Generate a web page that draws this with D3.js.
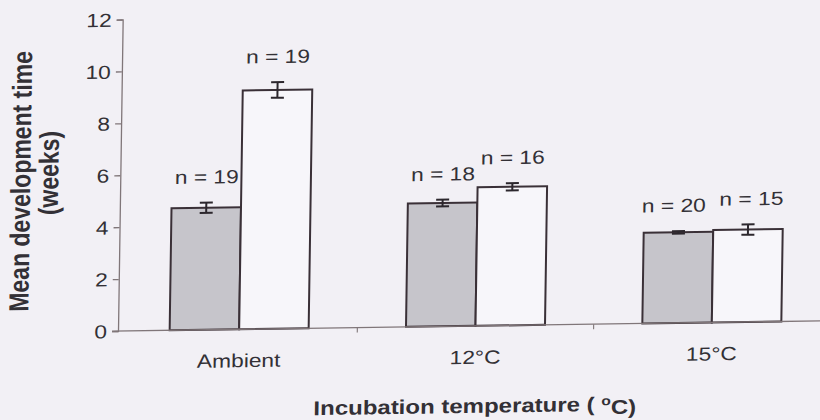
<!DOCTYPE html>
<html>
<head>
<meta charset="utf-8">
<script src="https://cdn.jsdelivr.net/npm/d3@7"></script>
<style>
  html, body { margin: 0; padding: 0; background: #f2f0f5; }
  svg { display: block; }
  text { font-family: "Liberation Sans", Arial, sans-serif; fill: #333036; }
</style>
</head>
<body>
<svg id="chart" width="820" height="420"></svg>
<script>
// Incubation treatments
const categories = ["Ambient", "12°C", "15°C"];

// Series A (grey bars): mean development time (weeks), error and sample size
const greyMeans = [4.7, 4.75, 3.49];
const greyErrors = [0.2, 0.13, 0.05];
const greyN = [19, 18, 20];

// Series B (open bars)
const openMeans = [9.2, 5.34, 3.56];
const openErrors = [0.3, 0.14, 0.2];
const openN = [19, 16, 15];

// Y axis ticks
const yTicks = [0, 2, 4, 6, 8, 10, 12];

const svg = d3.select("#chart");

// plot origin (axis corner) and a small shear of the whole frame
const ox = 118, oy = 331;
const shearX = -0.015, shearY = -0.0144;
const g = svg.append("g")
  .attr("transform", `matrix(1,${shearY},${shearX},1,${-shearX * oy},${-shearY * ox})`);

const stretch = 1.2; // horizontal stretch of lettering

const y = d3.scaleLinear().domain([0, 12]).range([oy, 19.5]);
const x = d3.scaleBand().domain(categories).range([121, 830]).paddingInner(0).paddingOuter(0);
const barW = 69.5;

const series = [
  { key: "grey", means: greyMeans, errs: greyErrors, n: greyN, fill: "#c6c5cb", offset: -barW, labelShift: -5 },
  { key: "open", means: openMeans, errs: openErrors, n: openN, fill: "#f7f6fa", offset: 0, labelShift: 3 }
];

const axisColor = "#807679";
const ink = "#3a3037";

// y axis
const yAxis = d3.axisLeft(y).tickValues(yTicks).tickSize(6).tickPadding(6).tickFormat(d3.format("d"));
const yg = g.append("g").attr("transform", `translate(${ox},0)`).call(yAxis);
yg.select(".domain").attr("stroke", axisColor).attr("stroke-width", 1.3);
yg.selectAll(".tick line").attr("stroke", axisColor).attr("stroke-width", 1.3);
yg.selectAll(".tick text").each(function () {
  d3.select(this).attr("x", null).attr("dy", "0.35em")
    .attr("transform", `translate(-11,0) scale(${stretch},1)`)
    .style("font-size", "19px").style("fill", "#333036").attr("font-family", null);
});

// bars
series.forEach(s => {
  g.selectAll(`rect.${s.key}`)
    .data(categories)
    .join("rect")
    .attr("class", s.key)
    .attr("x", d => x(d) + x.bandwidth() / 2 + s.offset)
    .attr("y", (d, i) => y(s.means[i]))
    .attr("width", barW)
    .attr("height", (d, i) => y(0) - y(s.means[i]))
    .attr("fill", s.fill)
    .attr("stroke", ink)
    .attr("stroke-width", 2);
});

// baseline with boundary ticks
g.append("line")
  .attr("x1", ox - 6).attr("x2", 830)
  .attr("y1", oy).attr("y2", oy)
  .attr("stroke", axisColor).attr("stroke-width", 1.3);
categories.slice(1).forEach(c => {
  g.append("line")
    .attr("x1", x(c)).attr("x2", x(c))
    .attr("y1", oy).attr("y2", oy + 5)
    .attr("stroke", axisColor).attr("stroke-width", 1.1);
});

// error bars and sample size labels
series.forEach(s => {
  categories.forEach((c, i) => {
    const cx = x(c) + x.bandwidth() / 2 + s.offset + barW / 2;
    const top = y(s.means[i] + s.errs[i]);
    const bot = y(s.means[i] - s.errs[i]);
    const eg = g.append("g").attr("stroke", "#2c272d").attr("stroke-width", 2);
    eg.append("line").attr("x1", cx).attr("x2", cx).attr("y1", top).attr("y2", bot);
    eg.append("line").attr("x1", cx - 6.5).attr("x2", cx + 6.5).attr("y1", top).attr("y2", top);
    eg.append("line").attr("x1", cx - 6.5).attr("x2", cx + 6.5).attr("y1", bot).attr("y2", bot);

    const lx = i === 2 ? cx + s.labelShift : cx;
    g.append("text")
      .attr("transform", `translate(${lx},${top - 19}) scale(${stretch},1)`)
      .attr("text-anchor", "middle")
      .style("font-size", "19px")
      .text(`n = ${s.n[i]}`);
  });
});

// category labels
categories.forEach(c => {
  g.append("text")
    .attr("transform", `translate(${x(c) + x.bandwidth() / 2},${oy + 38}) scale(${stretch},1)`)
    .attr("text-anchor", "middle")
    .style("font-size", "19px")
    .text(c);
});

// axis titles
const xt = g.append("text")
  .attr("transform", `translate(${476},${oy + 87}) scale(${stretch},1)`)
  .attr("text-anchor", "middle")
  .style("font-size", "20px")
  .style("font-weight", "bold");
xt.append("tspan").text("Incubation temperature ( ");
xt.append("tspan").attr("dy", "-0.45em").style("font-size", "13px").text("o");
xt.append("tspan").attr("dy", "0.45em").text("C)");

g.append("text")
  .attr("transform", `translate(${28},${180}) rotate(-90) scale(1,${stretch})`)
  .attr("text-anchor", "middle")
  .style("font-size", "23px")
  .style("font-weight", "bold")
  .text("Mean development time");

g.append("text")
  .attr("transform", `translate(${56},${172}) rotate(-90) scale(1,${stretch})`)
  .attr("text-anchor", "middle")
  .style("font-size", "23px")
  .style("font-weight", "bold")
  .text("(weeks)");
</script>
</body>
</html>
